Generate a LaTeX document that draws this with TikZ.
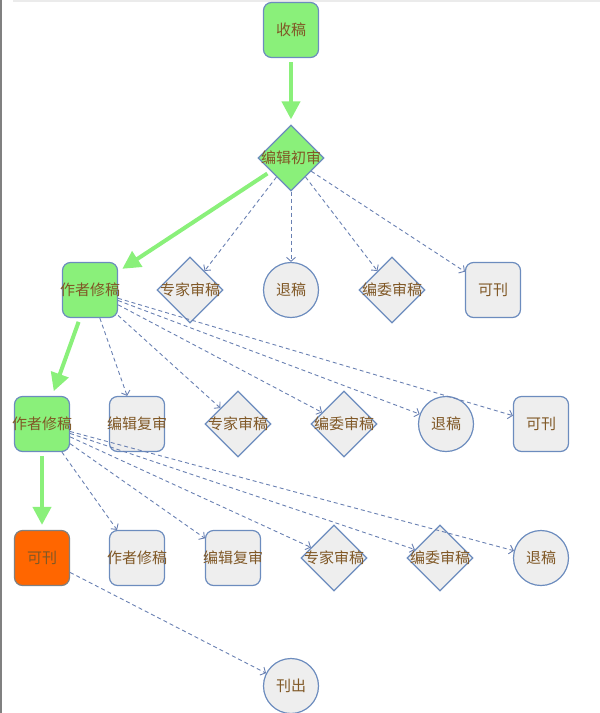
\documentclass[tikz,border=0pt]{standalone}
\usepackage{fontspec}
\newfontfamily\cjk{Noto Sans CJK SC}
\usetikzlibrary{shapes.geometric,arrows.meta}

\definecolor{okgreen}{RGB}{138,240,122}
\definecolor{boxgray}{RGB}{238,238,238}
\definecolor{edgeblue}{RGB}{108,140,190}
\definecolor{linkblue}{RGB}{105,128,178}
\definecolor{textbrown}{RGB}{128,88,38}
\definecolor{puborange}{RGB}{255,102,0}
\newcommand{\lbl}[1]{\makebox[0pt]{#1}}

\begin{document}
\begin{tikzpicture}[x=1pt, y=-1pt,
    every node/.style={font=\cjk\fontsize{15pt}{18pt}\selectfont, text=textbrown, inner sep=0pt},
    stepbox/.style={rectangle, rounded corners=8pt, draw=edgeblue, line width=1.2pt, fill=boxgray, minimum width=55pt, minimum height=55pt},
    checkbox/.style={diamond, draw=edgeblue, line width=1.2pt, fill=boxgray, minimum width=66pt, minimum height=66pt},
    endbox/.style={circle, draw=edgeblue, line width=1.2pt, fill=boxgray, minimum size=55pt},
    done/.style={fill=okgreen},
    mainlink/.style={-{Triangle[length=18pt,width=18pt]}, draw=okgreen, line width=4pt, shorten <=4pt, shorten >=5pt},
    sidelink/.style={-{Straight Barb[length=4pt,width=9pt]}, draw=linkblue, line width=0.9pt, dash pattern=on 4pt off 3pt}]
	\useasboundingbox (0,0) rectangle (600,713);
	% Page edge
	\draw[gray, line width=1.5pt] (0.75,0) -- (0.75,713);
	\draw[black!8, line width=1.5pt] (13,0.75) -- (600,0.75);

	% Nodes
	\node[stepbox, done] (shou) at (291,30) {\lbl{收稿}};
	\node[checkbox, done] (chushen) at (291,158) {\lbl{编辑初审}};

	\node[stepbox, done] (xiu1) at (90,290) {\lbl{作者修稿}};
	\node[checkbox] (zhuan1) at (190,290) {\lbl{专家审稿}};
	\node[endbox] (tui1) at (291,290) {\lbl{退稿}};
	\node[checkbox] (wei1) at (392,290) {\lbl{编委审稿}};
	\node[stepbox] (kan1) at (493,290) {\lbl{可刊}};

	\node[stepbox, done] (xiu2) at (42,424) {\lbl{作者修稿}};
	\node[stepbox] (fu2) at (137,424) {\lbl{编辑复审}};
	\node[checkbox] (zhuan2) at (238,424) {\lbl{专家审稿}};
	\node[checkbox] (wei2) at (344,424) {\lbl{编委审稿}};
	\node[endbox] (tui2) at (446,424) {\lbl{退稿}};
	\node[stepbox] (kan2) at (541,424) {\lbl{可刊}};

	\node[stepbox, fill=puborange, draw=black!50] (kan3) at (42,558) {\lbl{可刊}};
	\node[stepbox] (xiu3) at (137,558) {\lbl{作者修稿}};
	\node[stepbox] (fu3) at (233,558) {\lbl{编辑复审}};
	\node[checkbox] (zhuan3) at (334,558) {\lbl{专家审稿}};
	\node[checkbox] (wei3) at (440,558) {\lbl{编委审稿}};
	\node[endbox] (tui3) at (541,558) {\lbl{退稿}};

	\node[endbox] (chu) at (291,686) {\lbl{刊出}};

	% Links
	\draw[mainlink] (shou) -- (chushen);
	\draw[mainlink] (chushen) -- (xiu1);
	\draw[mainlink] (xiu1) -- (xiu2);
	\draw[mainlink] (xiu2) -- (kan3);

	\draw[sidelink] (chushen) -- (zhuan1);
	\draw[sidelink] (chushen) -- (tui1);
	\draw[sidelink] (chushen) -- (wei1);
	\draw[sidelink] (chushen) -- (kan1);

	\draw[sidelink] (xiu1) -- (fu2);
	\draw[sidelink] (xiu1) -- (zhuan2);
	\draw[sidelink] (xiu1) -- (wei2);
	\draw[sidelink] (xiu1) -- (tui2);
	\draw[sidelink] (xiu1) -- (kan2);

	\draw[sidelink] (xiu2) -- (xiu3);
	\draw[sidelink] (xiu2) -- (fu3);
	\draw[sidelink] (xiu2) -- (zhuan3);
	\draw[sidelink] (xiu2) -- (wei3);
	\draw[sidelink] (xiu2) -- (tui3);

	\draw[sidelink] (kan3) -- (chu);
\end{tikzpicture}
\end{document}
